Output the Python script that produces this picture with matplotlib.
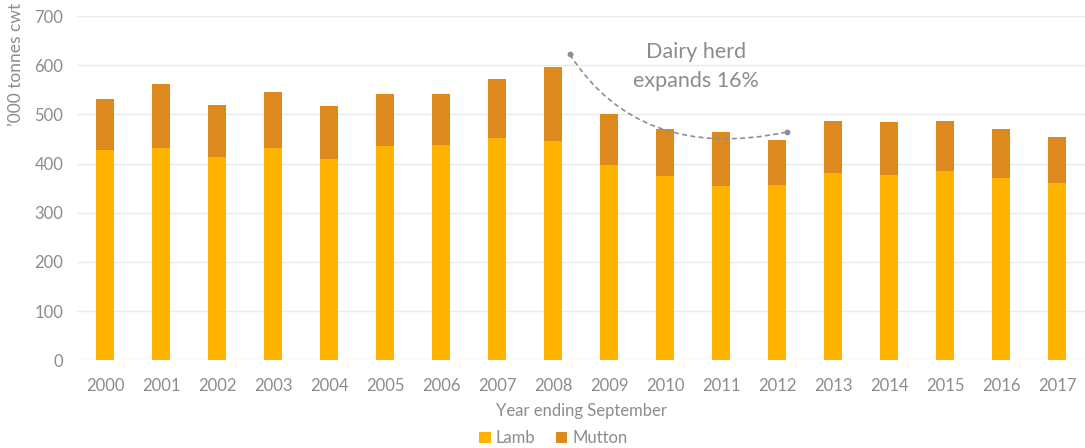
import matplotlib.pyplot as plt
from matplotlib.path import Path
from matplotlib.patches import PathPatch

plt.rcParams['font.family'] = ['Lato', 'DejaVu Sans']

# -----------------------------
# Data ('000 tonnes cwt)
# -----------------------------

years = ["2000", "2001", "2002", "2003", "2004", "2005", "2006", "2007", "2008",
         "2009", "2010", "2011", "2012", "2013", "2014", "2015", "2016", "2017"]

lamb = [427, 432, 413, 432, 410, 436, 437, 452, 445,
        398, 375, 355, 356, 381, 376, 384, 371, 361]

total = [532, 561, 520, 546, 517, 542, 542, 572, 597,
         500, 470, 464, 447, 487, 485, 487, 470, 455]

mutton = [t - l for t, l in zip(total, lamb)]

# annotation curve (data coords): start, control, end
curve_pts = [(8.3, 622), (9.55, 402), (12.17, 464)]
note_text = "Dairy herd\nexpands 16%"
note_pos = (10.55, 597)

lamb_col = "#FFB300"
mutton_col = "#DC8A1E"
grey = "#8C8C8C"

# -----------------------------
# Plot
# -----------------------------

fig = plt.figure(figsize=(10.85, 4.48), dpi=100)
ax = fig.add_axes([0.071, 0.196, 0.929, 0.768])

x = list(range(len(years)))

ax.bar(x, lamb, width=0.32, color=lamb_col, label="Lamb", zorder=2)
ax.bar(x, mutton, width=0.32, bottom=lamb, color=mutton_col, label="Mutton", zorder=2)

ax.set_xlim(-0.5, len(years) - 0.5)
ax.set_ylim(0, 700)
ax.set_yticks(range(0, 701, 100))
ax.set_xticks(x)
ax.set_xticklabels(years)

ax.grid(axis="y", color="#EAEAEA", linewidth=1, zorder=0)
for s in ax.spines.values():
    s.set_visible(False)
ax.tick_params(axis="x", length=0, colors=grey, labelsize=12, pad=13)
ax.tick_params(axis="y", length=0, colors=grey, labelsize=12, pad=10)

ax.set_xlabel("Year ending September", color=grey, fontsize=12, labelpad=6)
ax.set_ylabel("\u2019000 tonnes cwt", color=grey, fontsize=12.5)
ax.yaxis.set_label_coords(-0.053, 0.86)

# annotation
path = Path(curve_pts, [Path.MOVETO, Path.CURVE3, Path.CURVE3])
ax.add_patch(PathPatch(path, facecolor="none", edgecolor="#8A8F99",
                       linestyle=(0, (3, 2)), linewidth=1.2, zorder=3))
ax.scatter([curve_pts[0][0], curve_pts[2][0]], [curve_pts[0][1], curve_pts[2][1]],
           s=10, color="#8A8F99", zorder=4)
ax.text(note_pos[0], note_pos[1], note_text, color=grey, fontsize=15.5,
        ha="center", va="center", linespacing=1.55)

fig.legend(loc="lower center", ncol=2, frameon=False, fontsize=12,
           labelcolor=grey, handlelength=0.7, handleheight=0.7,
           handletextpad=0.3, columnspacing=1.2, bbox_to_anchor=(0.51, -0.03))

fig.savefig("out.png", dpi=100)
